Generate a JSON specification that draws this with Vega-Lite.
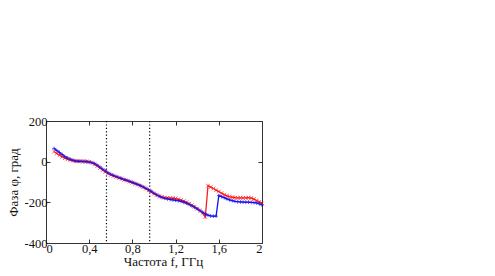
{
  "$schema": "https://vega.github.io/schema/vega-lite/v6.json",
  "autosize": {"type": "none"},
  "padding": {"left": 46, "top": 121, "right": 233, "bottom": 33},
  "width": 216,
  "height": 122,
  "background": "white",
  "config": {
    "view": {"stroke": "#333", "strokeWidth": 1},
    "font": "Liberation Serif, Times New Roman, DejaVu Serif, serif",
    "axis": {"grid": false, "domain": false, "labelFont": "Liberation Serif, Times New Roman, DejaVu Serif, serif", "titleFont": "Liberation Serif, Times New Roman, DejaVu Serif, serif", "labelFontSize": 12.5, "titleFontSize": 13, "labelColor": "#111", "titleColor": "#111", "titleFontWeight": "normal", "tickColor": "#333", "tickSize": -4, "labelPadding": 3}
  },
  "datasets": {
    "series": [
      {"s": "r", "f": 0.075, "v": 50}, {"s": "r", "f": 0.1, "v": 40}, {"s": "r", "f": 0.125, "v": 32}, {"s": "r", "f": 0.15, "v": 24},
      {"s": "r", "f": 0.175, "v": 17}, {"s": "r", "f": 0.2, "v": 12}, {"s": "r", "f": 0.225, "v": 8}, {"s": "r", "f": 0.25, "v": 5},
      {"s": "r", "f": 0.275, "v": 3}, {"s": "r", "f": 0.3, "v": 2}, {"s": "r", "f": 0.325, "v": 2}, {"s": "r", "f": 0.35, "v": 2},
      {"s": "r", "f": 0.375, "v": 1}, {"s": "r", "f": 0.4, "v": -1}, {"s": "r", "f": 0.425, "v": -5}, {"s": "r", "f": 0.45, "v": -12},
      {"s": "r", "f": 0.475, "v": -21}, {"s": "r", "f": 0.5, "v": -31}, {"s": "r", "f": 0.525, "v": -41}, {"s": "r", "f": 0.55, "v": -50},
      {"s": "r", "f": 0.575, "v": -58}, {"s": "r", "f": 0.6, "v": -65}, {"s": "r", "f": 0.625, "v": -70}, {"s": "r", "f": 0.65, "v": -75},
      {"s": "r", "f": 0.675, "v": -80}, {"s": "r", "f": 0.7, "v": -84}, {"s": "r", "f": 0.725, "v": -89}, {"s": "r", "f": 0.75, "v": -93},
      {"s": "r", "f": 0.775, "v": -98}, {"s": "r", "f": 0.8, "v": -103}, {"s": "r", "f": 0.825, "v": -108}, {"s": "r", "f": 0.85, "v": -113},
      {"s": "r", "f": 0.875, "v": -119}, {"s": "r", "f": 0.9, "v": -126}, {"s": "r", "f": 0.925, "v": -133}, {"s": "r", "f": 0.95, "v": -141},
      {"s": "r", "f": 0.975, "v": -149}, {"s": "r", "f": 1.0, "v": -157}, {"s": "r", "f": 1.025, "v": -164}, {"s": "r", "f": 1.05, "v": -170},
      {"s": "r", "f": 1.075, "v": -174}, {"s": "r", "f": 1.1, "v": -177}, {"s": "r", "f": 1.125, "v": -178}, {"s": "r", "f": 1.15, "v": -179},
      {"s": "r", "f": 1.175, "v": -180}, {"s": "r", "f": 1.2, "v": -182}, {"s": "r", "f": 1.225, "v": -185}, {"s": "r", "f": 1.25, "v": -189},
      {"s": "r", "f": 1.275, "v": -194}, {"s": "r", "f": 1.3, "v": -200}, {"s": "r", "f": 1.325, "v": -207}, {"s": "r", "f": 1.35, "v": -214},
      {"s": "r", "f": 1.375, "v": -222}, {"s": "r", "f": 1.4, "v": -231}, {"s": "r", "f": 1.425, "v": -241}, {"s": "r", "f": 1.45, "v": -252},
      {"s": "r", "f": 1.475, "v": -272}, {"s": "r", "f": 1.5, "v": -118}, {"s": "r", "f": 1.525, "v": -125}, {"s": "r", "f": 1.55, "v": -132},
      {"s": "r", "f": 1.575, "v": -140}, {"s": "r", "f": 1.6, "v": -147}, {"s": "r", "f": 1.625, "v": -155}, {"s": "r", "f": 1.65, "v": -162},
      {"s": "r", "f": 1.675, "v": -168}, {"s": "r", "f": 1.7, "v": -172}, {"s": "r", "f": 1.725, "v": -175}, {"s": "r", "f": 1.75, "v": -177},
      {"s": "r", "f": 1.775, "v": -178}, {"s": "r", "f": 1.8, "v": -178}, {"s": "r", "f": 1.825, "v": -178}, {"s": "r", "f": 1.85, "v": -178},
      {"s": "r", "f": 1.875, "v": -177}, {"s": "r", "f": 1.9, "v": -179}, {"s": "r", "f": 1.925, "v": -184}, {"s": "r", "f": 1.95, "v": -191},
      {"s": "r", "f": 1.975, "v": -198}, {"s": "r", "f": 2.0, "v": -205},
      {"s": "b", "f": 0.075, "v": 65}, {"s": "b", "f": 0.1, "v": 55}, {"s": "b", "f": 0.125, "v": 45}, {"s": "b", "f": 0.15, "v": 35},
      {"s": "b", "f": 0.175, "v": 25}, {"s": "b", "f": 0.2, "v": 18}, {"s": "b", "f": 0.225, "v": 12}, {"s": "b", "f": 0.25, "v": 7},
      {"s": "b", "f": 0.275, "v": 3}, {"s": "b", "f": 0.3, "v": 2}, {"s": "b", "f": 0.325, "v": 1}, {"s": "b", "f": 0.35, "v": 0},
      {"s": "b", "f": 0.375, "v": 0}, {"s": "b", "f": 0.4, "v": -2}, {"s": "b", "f": 0.425, "v": -5}, {"s": "b", "f": 0.45, "v": -10},
      {"s": "b", "f": 0.475, "v": -18}, {"s": "b", "f": 0.5, "v": -27}, {"s": "b", "f": 0.525, "v": -37}, {"s": "b", "f": 0.55, "v": -46},
      {"s": "b", "f": 0.575, "v": -55}, {"s": "b", "f": 0.6, "v": -62}, {"s": "b", "f": 0.625, "v": -68}, {"s": "b", "f": 0.65, "v": -73},
      {"s": "b", "f": 0.675, "v": -78}, {"s": "b", "f": 0.7, "v": -83}, {"s": "b", "f": 0.725, "v": -88}, {"s": "b", "f": 0.75, "v": -92},
      {"s": "b", "f": 0.775, "v": -97}, {"s": "b", "f": 0.8, "v": -102}, {"s": "b", "f": 0.825, "v": -107}, {"s": "b", "f": 0.85, "v": -112},
      {"s": "b", "f": 0.875, "v": -118}, {"s": "b", "f": 0.9, "v": -124}, {"s": "b", "f": 0.925, "v": -131}, {"s": "b", "f": 0.95, "v": -138},
      {"s": "b", "f": 0.975, "v": -146}, {"s": "b", "f": 1.0, "v": -155}, {"s": "b", "f": 1.025, "v": -163}, {"s": "b", "f": 1.05, "v": -170},
      {"s": "b", "f": 1.075, "v": -176}, {"s": "b", "f": 1.1, "v": -180}, {"s": "b", "f": 1.125, "v": -183}, {"s": "b", "f": 1.15, "v": -186},
      {"s": "b", "f": 1.175, "v": -188}, {"s": "b", "f": 1.2, "v": -190}, {"s": "b", "f": 1.225, "v": -192}, {"s": "b", "f": 1.25, "v": -195},
      {"s": "b", "f": 1.275, "v": -199}, {"s": "b", "f": 1.3, "v": -204}, {"s": "b", "f": 1.325, "v": -210}, {"s": "b", "f": 1.35, "v": -217},
      {"s": "b", "f": 1.375, "v": -224}, {"s": "b", "f": 1.4, "v": -232}, {"s": "b", "f": 1.425, "v": -240}, {"s": "b", "f": 1.45, "v": -249},
      {"s": "b", "f": 1.475, "v": -257}, {"s": "b", "f": 1.5, "v": -263}, {"s": "b", "f": 1.525, "v": -267}, {"s": "b", "f": 1.55, "v": -268},
      {"s": "b", "f": 1.575, "v": -268}, {"s": "b", "f": 1.6, "v": -167}, {"s": "b", "f": 1.625, "v": -172}, {"s": "b", "f": 1.65, "v": -177},
      {"s": "b", "f": 1.675, "v": -183}, {"s": "b", "f": 1.7, "v": -188}, {"s": "b", "f": 1.725, "v": -192}, {"s": "b", "f": 1.75, "v": -195},
      {"s": "b", "f": 1.775, "v": -197}, {"s": "b", "f": 1.8, "v": -198}, {"s": "b", "f": 1.825, "v": -199}, {"s": "b", "f": 1.85, "v": -199},
      {"s": "b", "f": 1.875, "v": -199}, {"s": "b", "f": 1.9, "v": -200}, {"s": "b", "f": 1.925, "v": -201}, {"s": "b", "f": 1.95, "v": -203},
      {"s": "b", "f": 1.975, "v": -207}, {"s": "b", "f": 2.0, "v": -213}
    ],
    "marks": [{"f": 0.56}, {"f": 0.96}]
  },
  "layer": [
    {
      "data": {"name": "marks"},
      "mark": {"type": "rule", "color": "#000", "strokeDash": [1.2, 2.2], "strokeWidth": 1.2},
      "encoding": {
        "x": {"field": "f", "type": "quantitative", "scale": {"domain": [0, 2], "nice": false},
          "axis": {"orient": "top", "values": [0, 0.4, 0.8, 1.2, 1.6, 2], "labels": false, "title": null}}
      }
    },
    {
      "data": {"name": "series"},
      "mark": {"type": "line", "strokeWidth": 1.3},
      "encoding": {
        "x": {"field": "f", "type": "quantitative", "scale": {"domain": [0, 2], "nice": false},
          "axis": {"orient": "bottom", "values": [0, 0.4, 0.8, 1.2, 1.6, 2], "labelExpr": "replace(format(datum.value, '~g'), '.', ',')", "title": "Частота f, ГГц", "titlePadding": 1, "titleX": 117}},
        "y": {"field": "v", "type": "quantitative", "scale": {"domain": [-400, 200], "nice": false},
          "axis": {"orient": "left", "values": [-400, -200, 0, 200], "labelExpr": "toString(datum.value)", "title": "Фаза φ, град", "titlePadding": 4}},
        "color": {"field": "s", "type": "nominal", "scale": {"domain": ["r", "b"], "range": ["#ff1a1a", "#1010ee"]}, "legend": null},
        "order": {"field": "s", "sort": "descending"}
      }
    },
    {
      "data": {"name": "series"},
      "mark": {"type": "point", "filled": false, "size": 14, "strokeWidth": 1},
      "encoding": {
        "x": {"field": "f", "type": "quantitative", "axis": null},
        "y": {"field": "v", "type": "quantitative",
          "axis": {"orient": "right", "values": [-400, -200, 0, 200], "labels": false, "title": null}},
        "color": {"field": "s", "type": "nominal", "legend": null},
        "shape": {"field": "s", "type": "nominal", "scale": {"domain": ["r", "b"], "range": ["M-1,-1L1,1M-1,1L1,-1", "M-1,0L1,0M0,-1L0,1"]}, "legend": null}
      }
    }
  ],
  "resolve": {"axis": {"x": "independent", "y": "independent"}}
}
